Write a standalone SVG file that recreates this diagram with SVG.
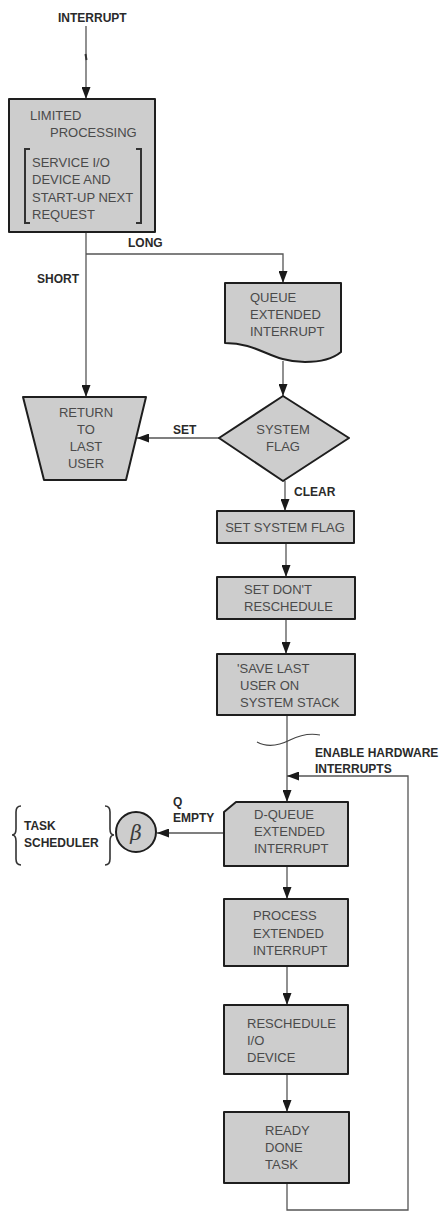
<svg xmlns="http://www.w3.org/2000/svg" width="445" height="1213" viewBox="0 0 445 1213">
  <defs>
    <marker id="arrow" markerUnits="userSpaceOnUse" markerWidth="12" markerHeight="9" refX="12" refY="4.5" orient="auto">
      <path d="M0,0 L12,4.5 L0,9 Z" fill="#1a1a1a"/>
    </marker>
    <style>
      .shape { fill: #cdcdcd; stroke: #1e1e1e; stroke-width: 2; stroke-linejoin: round; }
      .link { fill: none; stroke: #555; stroke-width: 1.3; }
      .txt { font-family: "Liberation Sans", Arial, sans-serif; font-size: 13px; fill: #4a4a4a; }
      .mid { text-anchor: middle; }
      .lbl { font-family: "Liberation Sans", Arial, sans-serif; font-size: 12px; font-weight: bold; fill: #2a2a2a; }
    </style>
  </defs>

  <rect width="445" height="1213" fill="#ffffff"/>

  <!-- entry label -->
  <text class="lbl" x="58" y="22">INTERRUPT</text>

  <!-- connectors -->
  <g id="connectors">
    <path class="link" d="M86,26 V99" marker-end="url(#arrow)"/>
    <path d="M85.5,54 L86.5,60" stroke="#333" stroke-width="2"/>
    <path class="link" d="M86,232 V397" marker-end="url(#arrow)"/>
    <path class="link" d="M86,254 H283 V283" marker-end="url(#arrow)"/>
    <path class="link" d="M283,361 V396" marker-end="url(#arrow)"/>
    <path class="link" d="M219,438 H137" marker-end="url(#arrow)"/>
    <path class="link" d="M285,481 V511" marker-end="url(#arrow)"/>
    <path class="link" d="M286,543 V577" marker-end="url(#arrow)"/>
    <path class="link" d="M286,619 V654" marker-end="url(#arrow)"/>
    <path class="link" d="M287,715 V802" marker-end="url(#arrow)"/>
    <path d="M257,742 C268,748 280,745 290,740 C300,735 310,733 320,735" fill="none" stroke="#444" stroke-width="1.2"/>
    <path class="link" d="M287,1183 V1210 H408 V776 H287" marker-end="url(#arrow)"/>
    <path class="link" d="M224,833 H157" marker-end="url(#arrow)"/>
    <path class="link" d="M287,866 V899" marker-end="url(#arrow)"/>
    <path class="link" d="M287,966 V1005" marker-end="url(#arrow)"/>
    <path class="link" d="M287,1074 V1112" marker-end="url(#arrow)"/>
  </g>

  <!-- connector labels -->
  <g id="labels">
    <text class="lbl" x="128" y="247">LONG</text>
    <text class="lbl" x="37" y="283">SHORT</text>
    <text class="lbl" x="173" y="434" font-weight="normal" fill="#444">SET</text>
    <text class="lbl" x="294" y="496">CLEAR</text>
    <text class="lbl" x="315" y="757">ENABLE HARDWARE</text>
    <text class="lbl" x="315" y="773">INTERRUPTS</text>
    <text class="lbl" x="173" y="806">Q</text>
    <text class="lbl" x="173" y="822">EMPTY</text>
  </g>

  <g id="limited-processing">
    <rect class="shape" x="9" y="99" width="146" height="133"/>
    <text class="txt" x="30" y="120">LIMITED</text>
    <text class="txt" x="50" y="137">PROCESSING</text>
    <path d="M30,149 H25 V223 H30 M136,149 H141 V223 H136" fill="none" stroke="#333" stroke-width="2"/>
    <text class="txt" x="32" y="167">SERVICE I/O</text>
    <text class="txt" x="32" y="184">DEVICE AND</text>
    <text class="txt" x="32" y="202">START-UP NEXT</text>
    <text class="txt" x="32" y="219">REQUEST</text>
  </g>

  <g id="queue-extended-interrupt">
    <path class="shape" d="M225,283 H341 V352 C335,357 325,362 305,362 C270,362 260,343 225,343 Z"/>
    <text class="txt" x="250" y="302">QUEUE</text>
    <text class="txt" x="250" y="319">EXTENDED</text>
    <text class="txt" x="250" y="336">INTERRUPT</text>
  </g>

  <g id="return-to-last-user">
    <path class="shape" d="M23,397 H146 L126,480 H44 Z"/>
    <text class="txt mid" x="86" y="417">RETURN</text>
    <text class="txt mid" x="86" y="434">TO</text>
    <text class="txt mid" x="86" y="451">LAST</text>
    <text class="txt mid" x="86" y="468">USER</text>
  </g>

  <g id="system-flag">
    <path class="shape" d="M283,396 L349,438 L283,481 L219,438 Z"/>
    <text class="txt mid" x="283" y="434">SYSTEM</text>
    <text class="txt mid" x="283" y="451">FLAG</text>
  </g>

  <g id="set-system-flag">
    <rect class="shape" x="217" y="511" width="137" height="32"/>
    <text class="txt mid" x="285" y="532">SET SYSTEM FLAG</text>
  </g>

  <g id="set-dont-reschedule">
    <rect class="shape" x="217" y="577" width="138" height="42"/>
    <text class="txt" x="244" y="594">SET DON'T</text>
    <text class="txt" x="244" y="611">RESCHEDULE</text>
  </g>

  <g id="save-last-user">
    <rect class="shape" x="217" y="654" width="138" height="61"/>
    <text class="txt" x="237" y="673">'SAVE LAST</text>
    <text class="txt" x="240" y="690">USER ON</text>
    <text class="txt" x="240" y="707">SYSTEM STACK</text>
  </g>

  <g id="d-queue-extended-interrupt">
    <path class="shape" d="M236,802 H348 V866 H224 V812 Z"/>
    <text class="txt" x="254" y="819">D-QUEUE</text>
    <text class="txt" x="254" y="836">EXTENDED</text>
    <text class="txt" x="254" y="853">INTERRUPT</text>
  </g>

  <g id="task-scheduler">
    <circle class="shape" cx="136" cy="832" r="20"/>
    <text x="136" y="840" text-anchor="middle" font-family="DejaVu Serif, serif" font-style="italic" font-size="20" fill="#3a3a3a">β</text>
    <path d="M21,806 Q16,806 16,812 V829 Q16,835 12,835 Q16,835 16,841 V859 Q16,865 21,865" fill="none" stroke="#333" stroke-width="1.6"/>
    <path d="M105,806 Q110,806 110,812 V829 Q110,835 114,835 Q110,835 110,841 V859 Q110,865 105,865" fill="none" stroke="#333" stroke-width="1.6"/>
    <text class="lbl" x="24" y="830">TASK</text>
    <text class="lbl" x="24" y="847">SCHEDULER</text>
  </g>

  <g id="process-extended-interrupt">
    <rect class="shape" x="224" y="899" width="124" height="67"/>
    <text class="txt" x="253" y="920">PROCESS</text>
    <text class="txt" x="253" y="938">EXTENDED</text>
    <text class="txt" x="253" y="955">INTERRUPT</text>
  </g>

  <g id="reschedule-io-device">
    <rect class="shape" x="224" y="1005" width="124" height="69"/>
    <text class="txt" x="247" y="1028">RESCHEDULE</text>
    <text class="txt" x="247" y="1045">I/O</text>
    <text class="txt" x="247" y="1062">DEVICE</text>
  </g>

  <g id="ready-done-task">
    <rect class="shape" x="224" y="1112" width="125" height="71"/>
    <text class="txt" x="265" y="1135">READY</text>
    <text class="txt" x="265" y="1152">DONE</text>
    <text class="txt" x="265" y="1169">TASK</text>
  </g>
</svg>
